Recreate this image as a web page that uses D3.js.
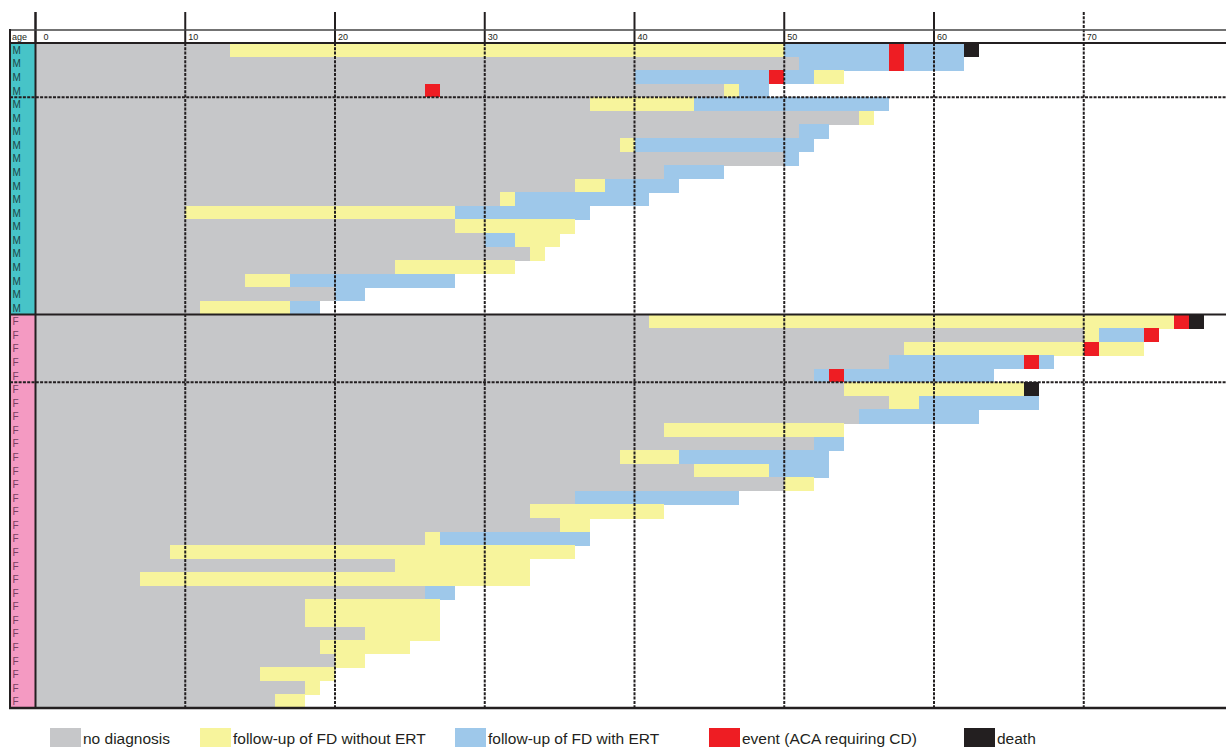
<!DOCTYPE html>
<html>
<head>
<meta charset="utf-8">
<script src="https://cdn.jsdelivr.net/npm/d3@7"></script>
<style>
  body { margin: 0; background: #fff; }
  svg { display: block; font-family: "Liberation Sans", Arial, sans-serif; }
</style>
</head>
<body>
<svg id="chart" width="1226" height="747"></svg>
<script>
// one letter per patient row, top to bottom
const sexes = "MMMMMMMMMMMMMMMMMMMMFFFFFFFFFFFFFFFFFFFFFFFFFFFFF".split("");

// [from age, to age, status] per patient
// n = no diagnosis, y = FD without ERT, b = FD with ERT, e = event, d = death
const patients = [
  [[0,13,"n"],[13,50,"y"],[50,57,"b"],[57,58,"e"],[58,62,"b"],[62,63,"d"]],
  [[0,51,"n"],[51,57,"b"],[57,58,"e"],[58,62,"b"]],
  [[0,40,"n"],[40,49,"b"],[49,50,"e"],[50,52,"b"],[52,54,"y"]],
  [[0,26,"n"],[26,27,"e"],[27,46,"n"],[46,47,"y"],[47,49,"b"]],
  [[0,37,"n"],[37,44,"y"],[44,57,"b"]],
  [[0,55,"n"],[55,56,"y"]],
  [[0,51,"n"],[51,53,"b"]],
  [[0,39,"n"],[39,40,"y"],[40,52,"b"]],
  [[0,50,"n"],[50,51,"b"]],
  [[0,42,"n"],[42,46,"b"]],
  [[0,36,"n"],[36,38,"y"],[38,43,"b"]],
  [[0,31,"n"],[31,32,"y"],[32,41,"b"]],
  [[0,10,"n"],[10,28,"y"],[28,37,"b"]],
  [[0,28,"n"],[28,36,"y"]],
  [[0,30,"n"],[30,32,"b"],[32,35,"y"]],
  [[0,33,"n"],[33,34,"y"]],
  [[0,24,"n"],[24,32,"y"]],
  [[0,14,"n"],[14,17,"y"],[17,28,"b"]],
  [[0,20,"n"],[20,22,"b"]],
  [[0,11,"n"],[11,17,"y"],[17,19,"b"]],
  // females
  [[0,41,"n"],[41,76,"y"],[76,77,"e"],[77,78,"d"]],
  [[0,70,"n"],[70,71,"y"],[71,74,"b"],[74,75,"e"]],
  [[0,58,"n"],[58,70,"y"],[70,71,"e"],[71,74,"y"]],
  [[0,57,"n"],[57,66,"b"],[66,67,"e"],[67,68,"b"]],
  [[0,52,"n"],[52,53,"b"],[53,54,"e"],[54,64,"b"]],
  [[0,54,"n"],[54,66,"y"],[66,67,"d"]],
  [[0,57,"n"],[57,59,"y"],[59,67,"b"]],
  [[0,55,"n"],[55,63,"b"]],
  [[0,42,"n"],[42,54,"y"]],
  [[0,52,"n"],[52,54,"b"]],
  [[0,39,"n"],[39,43,"y"],[43,53,"b"]],
  [[0,44,"n"],[44,49,"y"],[49,53,"b"]],
  [[0,50,"n"],[50,52,"y"]],
  [[0,36,"n"],[36,47,"b"]],
  [[0,33,"n"],[33,42,"y"]],
  [[0,35,"n"],[35,37,"y"]],
  [[0,26,"n"],[26,27,"y"],[27,37,"b"]],
  [[0,9,"n"],[9,36,"y"]],
  [[0,24,"n"],[24,33,"y"]],
  [[0,7,"n"],[7,33,"y"]],
  [[0,26,"n"],[26,28,"b"]],
  [[0,18,"n"],[18,27,"y"]],
  [[0,18,"n"],[18,27,"y"]],
  [[0,22,"n"],[22,27,"y"]],
  [[0,19,"n"],[19,25,"y"]],
  [[0,20,"n"],[20,22,"y"]],
  [[0,15,"n"],[15,20,"y"]],
  [[0,18,"n"],[18,19,"y"]],
  [[0,16,"n"],[16,18,"y"]]
];

const statusKeys = ["n", "y", "b", "e", "d"];
const statusLabels = ["no diagnosis", "follow-up of FD without ERT", "follow-up of FD with ERT",
                      "event (ACA requiring CD)", "death"];
const ageTicks = [0, 10, 20, 30, 40, 50, 60, 70];
// dotted separators are drawn below these row counts
const groupBreaks = [4, 25];

const colors = {n: "#c6c7c9", y: "#f7f49c", b: "#9ec8ea", e: "#ee1d23", d: "#231f20"};
const sexColors = {M: "#47c4c8", F: "#f49ac2"};
const ink = "#231f20";

let W = 1226,
    leftX = 10,
    topY = 43,
    bottomY = 708;

let svg = d3.select("#chart");

let x = d3.scaleLinear()
    .domain([0, 80])
    .range([35.5, 35.5 + 80 * 14.975]);

let y = d3.scaleBand()
    .domain(d3.range(patients.length))
    .range([topY, bottomY]);

let rowEdge = function(i) { return topY + i * y.bandwidth(); };

// bars
let rows = svg.append("g")
    .attr("shape-rendering", "crispEdges")
    .selectAll("g.row")
    .data(patients)
    .enter().append("g")
    .attr("class", "row");

rows.selectAll("rect")
    .data(function(d, i) { return d.map(function(s) { return {s: s, i: i}; }); })
    .enter().append("rect")
    .attr("x", function(d) { return x(d.s[0]); })
    .attr("width", function(d) { return x(d.s[1]) - x(d.s[0]); })
    .attr("y", function(d) { return y(d.i); })
    .attr("height", y.bandwidth() + 0.5)
    .attr("fill", function(d) { return colors[d.s[2]]; });

// sex column
let labels = svg.append("g");
labels.selectAll("rect")
    .data(sexes)
    .enter().append("rect")
    .attr("shape-rendering", "crispEdges")
    .attr("x", leftX)
    .attr("width", x(0) - leftX)
    .attr("y", function(d, i) { return y(i); })
    .attr("height", y.bandwidth() + 0.5)
    .attr("fill", function(d) { return sexColors[d]; });

labels.selectAll("text")
    .data(sexes)
    .enter().append("text")
    .attr("x", leftX + 2.5)
    .attr("y", function(d, i) { return y(i) + y.bandwidth() / 2 + 4; })
    .attr("font-size", 10)
    .attr("fill", function(d) { return d === "M" ? "#1d4546" : "#7a3f60"; })
    .text(function(d) { return d; });

// grid lines
let grid = svg.append("g");

grid.selectAll("line.vdot")
    .data(ageTicks.filter(function(t) { return t > 0; }))
    .enter().append("line")
    .attr("class", "vdot")
    .attr("x1", function(d) { return x(d); })
    .attr("x2", function(d) { return x(d); })
    .attr("y1", topY)
    .attr("y2", bottomY)
    .attr("stroke", ink)
    .attr("stroke-width", 2)
    .attr("stroke-dasharray", "3,1.3");

// ticks above the header
grid.selectAll("line.vtop")
    .data(ageTicks)
    .enter().append("line")
    .attr("class", "vtop")
    .attr("x1", function(d) { return x(d); })
    .attr("x2", function(d) { return x(d); })
    .attr("y1", 12)
    .attr("y2", topY)
    .attr("stroke", ink)
    .attr("stroke-width", 2)
    .attr("stroke-dasharray", function(d) { return d === 70 ? "3,1.3" : null; });

// age axis
grid.append("line")
    .attr("x1", x(0)).attr("x2", x(0))
    .attr("y1", 12).attr("y2", bottomY)
    .attr("stroke", ink).attr("stroke-width", 2);

// header
grid.append("line")
    .attr("x1", leftX - 1).attr("x2", W)
    .attr("y1", 30).attr("y2", 30)
    .attr("stroke", "#444").attr("stroke-width", 1.6);
grid.append("line")
    .attr("x1", leftX - 1).attr("x2", W)
    .attr("y1", topY).attr("y2", topY)
    .attr("stroke", ink).attr("stroke-width", 2);

grid.append("text")
    .attr("x", leftX + 2)
    .attr("y", 40)
    .attr("font-size", 9)
    .attr("fill", ink)
    .text("age");

grid.selectAll("text.tick")
    .data(ageTicks)
    .enter().append("text")
    .attr("class", "tick")
    .attr("x", function(d) { return x(d) + (d === 0 ? 8 : 3); })
    .attr("y", 40)
    .attr("font-size", 9)
    .attr("fill", ink)
    .text(function(d) { return d; });

// left border
grid.append("line")
    .attr("x1", leftX).attr("x2", leftX)
    .attr("y1", 29).attr("y2", bottomY + 1)
    .attr("stroke", ink).attr("stroke-width", 2);

// group separators
grid.selectAll("line.hdot")
    .data(groupBreaks)
    .enter().append("line")
    .attr("class", "hdot")
    .attr("x1", leftX).attr("x2", W)
    .attr("y1", function(d) { return rowEdge(d); })
    .attr("y2", function(d) { return rowEdge(d); })
    .attr("stroke", ink)
    .attr("stroke-width", 2)
    .attr("stroke-dasharray", "3,1.3");

let sexBreak = sexes.indexOf("F");
grid.append("line")
    .attr("x1", leftX).attr("x2", W)
    .attr("y1", rowEdge(sexBreak)).attr("y2", rowEdge(sexBreak))
    .attr("stroke", ink).attr("stroke-width", 2);

grid.append("line")
    .attr("x1", leftX - 1).attr("x2", W)
    .attr("y1", bottomY).attr("y2", bottomY)
    .attr("stroke", ink).attr("stroke-width", 2.5);

// legend
const legendX = [50, 200, 455, 709, 964];
let legend = svg.append("g")
    .selectAll("g")
    .data(statusKeys)
    .enter().append("g")
    .attr("transform", function(d, i) { return "translate(" + legendX[i] + ",728)"; });

legend.append("rect")
    .attr("width", 31)
    .attr("height", 19)
    .attr("fill", function(d) { return colors[d]; });

legend.append("text")
    .attr("x", 33)
    .attr("y", 16)
    .attr("font-size", 15.5)
    .attr("fill", ink)
    .text(function(d, i) { return statusLabels[i]; });
</script>
</body>
</html>
